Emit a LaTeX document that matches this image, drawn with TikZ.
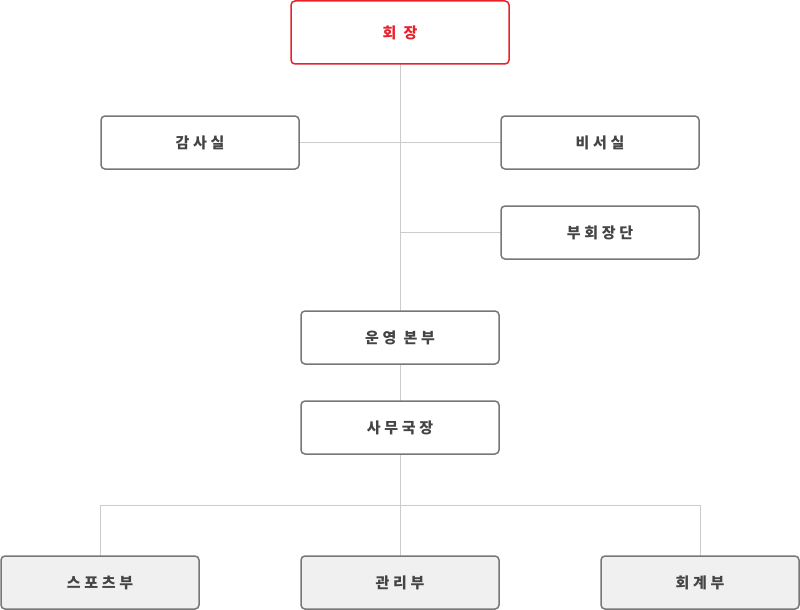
\documentclass[tikz,border=0pt]{standalone}
\usepackage{fontspec}
\newfontfamily\kr[LetterSpace=25]{Noto Sans CJK KR}
\begin{document}
\begin{tikzpicture}[x=1pt,y=-1pt,
  box/.style={draw=boxgray,line width=1.5pt,rounded corners=4pt,fill=white,text=textgray,font=\kr\bfseries\fontsize{15}{18}\selectfont},
  dept/.style={box,fill=deptfill},
  conn/.style={draw=linegray,line width=1pt}]
\definecolor{boxgray}{HTML}{777777}
\definecolor{textgray}{HTML}{444444}
\definecolor{linegray}{HTML}{CCCCCC}
\definecolor{deptfill}{HTML}{F0F0F0}
\definecolor{redc}{HTML}{E8212B}
\useasboundingbox (0,0) rectangle (800,610);
\coordinate (j1) at (400,142);
\coordinate (j2) at (400,232);
\coordinate (j3) at (400,505);
\coordinate (jl) at (100,505);
\coordinate (jr) at (700,505);
\draw[conn] (400,64) -- (400,311);
\draw[conn] (299,142) -- (501,142);
\draw[conn] (j2) -- (501,232);
\draw[conn] (400,364) -- (400,401);
\draw[conn] (400,454) -- (400,556);
\draw[conn] (100,556) -- (jl) -- (jr) -- (700,556);
\node[box,draw=redc,text=redc,minimum width=218pt,minimum height=63pt] (ceo) at (400,32.5) {회 장};
\node[box,minimum width=198pt,minimum height=53pt] (audit) at (200,142.5) {감사실};
\node[box,minimum width=198pt,minimum height=53pt] (sec) at (600,142.5) {비서실};
\node[box,minimum width=198pt,minimum height=53pt] (vice) at (600,232.5) {부회장단};
\node[box,minimum width=198pt,minimum height=53pt] (ops) at (400,337.5) {운영 본부};
\node[box,minimum width=198pt,minimum height=53pt] (gen) at (400,427.5) {사무국장};
\node[dept,minimum width=198pt,minimum height=53pt] (sport) at (100,582.5) {스포츠부};
\node[dept,minimum width=198pt,minimum height=53pt] (mgmt) at (400,582.5) {관리부};
\node[dept,minimum width=198pt,minimum height=53pt] (acct) at (700,582.5) {회계부};
\end{tikzpicture}
\end{document}
